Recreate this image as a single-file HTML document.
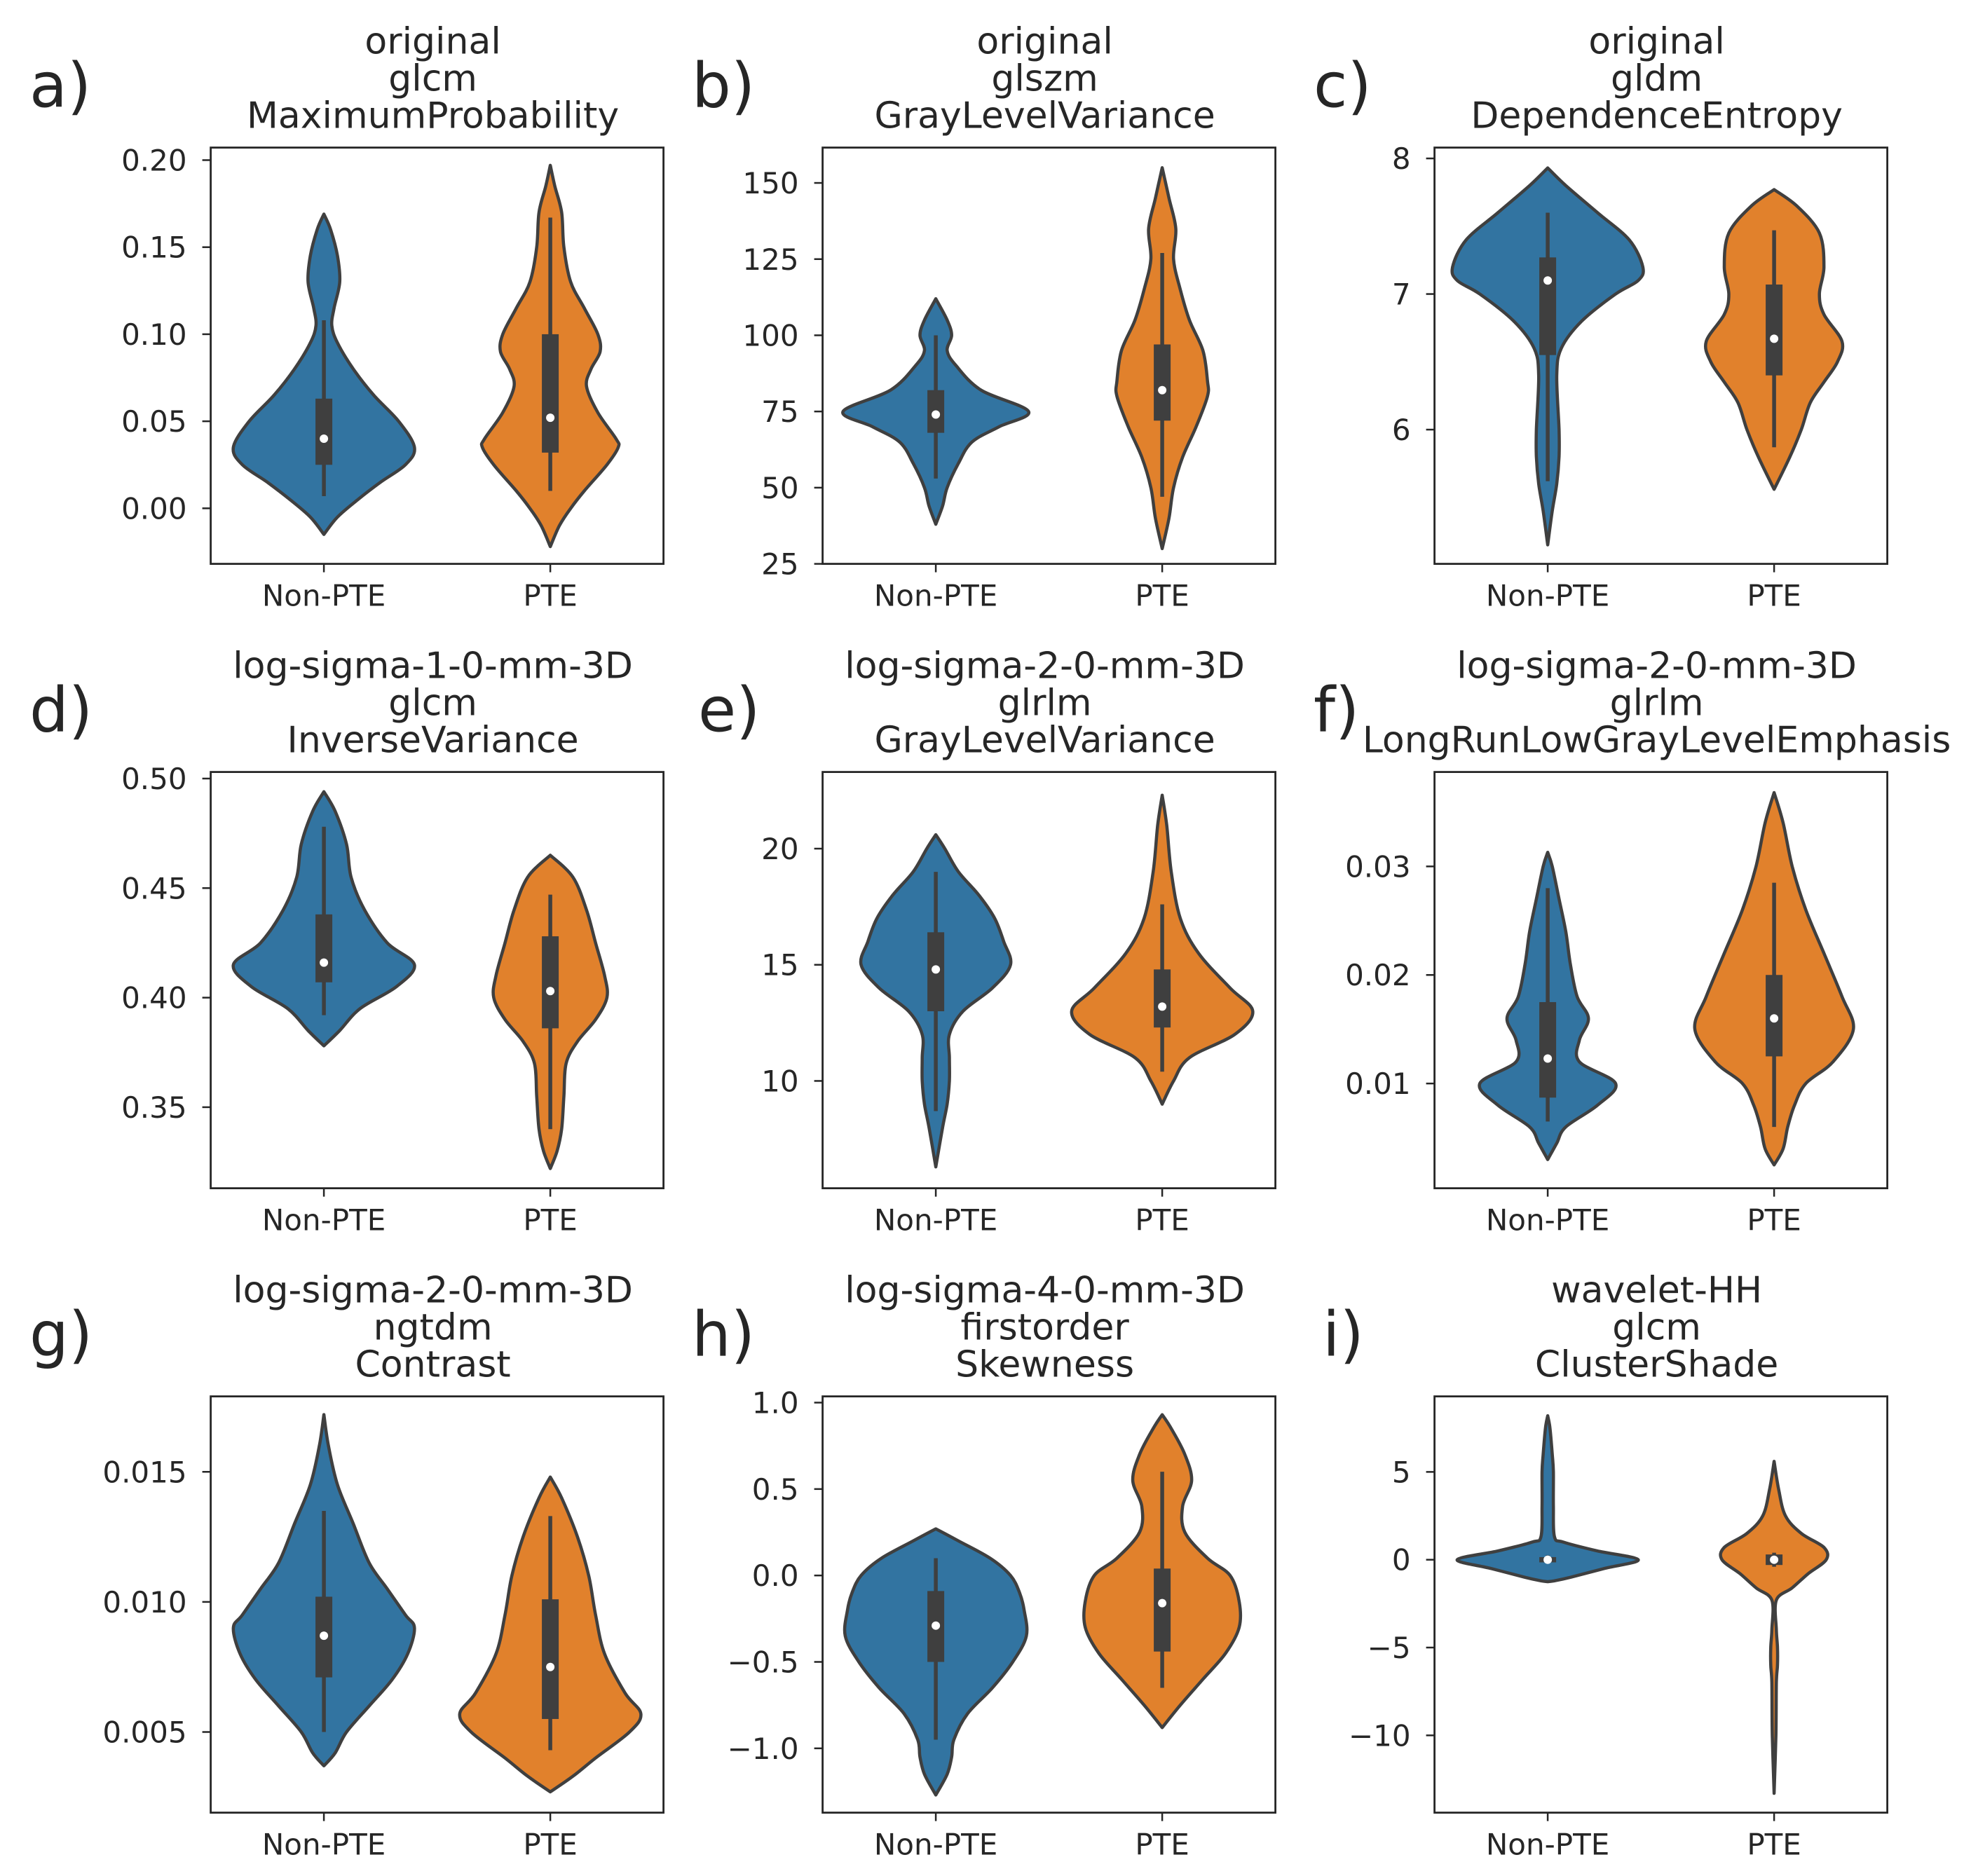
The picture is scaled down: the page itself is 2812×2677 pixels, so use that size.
<!DOCTYPE html>
<html><head><meta charset="utf-8">
<style>
html,body{margin:0;padding:0;background:#fff;}
svg text{font-family:"DejaVu Sans","Liberation Sans",sans-serif;fill:#262626;}
</style></head>
<body>
<svg id="fig" xmlns="http://www.w3.org/2000/svg" width="2812" height="2672" viewBox="0 0 2812 2672"></svg>
<script>
const categories = ["Non-PTE","PTE"];
const panelLetters = ["a)","b)","c)","d)","e)","f)","g)","h)","i)"];
const titles = [
 ["original","glcm","MaximumProbability"],
 ["original","glszm","GrayLevelVariance"],
 ["original","gldm","DependenceEntropy"],
 ["log-sigma-1-0-mm-3D","glcm","InverseVariance"],
 ["log-sigma-2-0-mm-3D","glrlm","GrayLevelVariance"],
 ["log-sigma-2-0-mm-3D","glrlm","LongRunLowGrayLevelEmphasis"],
 ["log-sigma-2-0-mm-3D","ngtdm","Contrast"],
 ["log-sigma-4-0-mm-3D","firstorder","Skewness"],
 ["wavelet-HH","glcm","ClusterShade"]
];
const yLimits = [[-0.0319,0.2072],[25,161.6],[5.01,8.08],[0.313,0.503],[5.38,23.3],[0.00035,0.0387],[0.0019,0.0179],[-1.372,1.036],[-14.4,9.3]];
const yTicks = [
 [0,0.05,0.1,0.15,0.2],[25,50,75,100,125,150],[6,7,8],[0.35,0.4,0.45,0.5],[10,15,20],[0.01,0.02,0.03],[0.005,0.01,0.015],[-1,-0.5,0,0.5,1],[-10,-5,0,5]
];
const yTickLabels = [
 ["0.00","0.05","0.10","0.15","0.20"],["25","50","75","100","125","150"],["6","7","8"],["0.35","0.40","0.45","0.50"],["10","15","20"],["0.01","0.02","0.03"],["0.005","0.010","0.015"],["\u22121.0","\u22120.5","0.0","0.5","1.0"],["\u221210","\u22125","0","5"]
];
const violinValues = [
 [[0.169,0.16,0.145,0.13,0.115,0.105,0.095,0.08,0.065,0.05,0.035,0.025,0.015,0.005,-0.005,-0.015],
  [0.197,0.185,0.17,0.15,0.13,0.115,0.1,0.09,0.08,0.07,0.055,0.04,0.035,0.025,0.01,0,-0.01,-0.022]],
 [[112,105,100,95,90,82,75,70,65,58,50,44,38],
  [155,145,135,125,115,105,95,85,80,70,60,50,40,30]],
 [[7.93,7.8,7.6,7.4,7.2,7.1,7.0,6.8,6.6,6.4,6.0,5.8,5.6,5.4,5.15],
  [7.77,7.65,7.45,7.2,7.0,6.85,6.65,6.5,6.35,6.2,6.0,5.8,5.56]],
 [[0.494,0.485,0.47,0.455,0.44,0.425,0.415,0.405,0.395,0.385,0.378],
  [0.465,0.455,0.44,0.425,0.41,0.4,0.39,0.38,0.37,0.355,0.34,0.33,0.322]],
 [[20.6,20,19,18,17,16,15,14,13,12,11,10,9,8,6.3],
  [22.3,21,19,17,15.5,14,13,12,11,10,9]],
 [[0.0313,0.03,0.027,0.024,0.021,0.018,0.016,0.014,0.012,0.01,0.008,0.006,0.0045,0.003],
  [0.0368,0.034,0.03,0.026,0.022,0.018,0.015,0.012,0.01,0.008,0.006,0.004,0.0025]],
 [[0.0172,0.016,0.0145,0.013,0.0115,0.0105,0.0095,0.009,0.008,0.007,0.006,0.005,0.0042,0.0037],
  [0.0148,0.014,0.0125,0.011,0.0095,0.008,0.0065,0.0057,0.005,0.004,0.0033,0.0027]],
 [[0.27,0.2,0.1,0,-0.1,-0.2,-0.35,-0.5,-0.65,-0.8,-0.95,-1.05,-1.15,-1.27],
  [0.93,0.85,0.7,0.55,0.4,0.25,0.1,0,-0.15,-0.3,-0.45,-0.6,-0.75,-0.88]],
 [[8.2,7.5,6,5,3,1.3,1.0,0.5,0,-0.5,-1.0,-1.2,-1.25],
  [5.6,4,2.5,1.5,0.7,0,-0.8,-1.6,-2.3,-4,-5,-6,-7,-10,-13.3]]
];
const violinWidths = [
 [[0,0.03,0.06,0.07,0.045,0.035,0.06,0.13,0.22,0.33,0.40,0.36,0.25,0.15,0.06,0],
  [0,0.02,0.05,0.06,0.09,0.15,0.21,0.22,0.18,0.16,0.21,0.29,0.30,0.25,0.15,0.09,0.04,0]],
 [[0,0.05,0.07,0.05,0.09,0.2,0.41,0.28,0.16,0.1,0.05,0.03,0],
  [0,0.03,0.06,0.05,0.08,0.12,0.18,0.2,0.2,0.15,0.09,0.05,0.03,0]],
 [[0,0.08,0.22,0.36,0.42,0.40,0.3,0.15,0.06,0.04,0.05,0.05,0.04,0.02,0],
  [0,0.1,0.2,0.22,0.2,0.22,0.3,0.28,0.22,0.16,0.12,0.07,0]],
 [[0,0.05,0.1,0.12,0.18,0.28,0.4,0.32,0.16,0.07,0],
  [0,0.1,0.16,0.2,0.24,0.25,0.2,0.12,0.07,0.06,0.05,0.03,0]],
 [[0,0.04,0.1,0.19,0.26,0.3,0.33,0.25,0.12,0.06,0.06,0.06,0.05,0.03,0],
  [0,0.02,0.04,0.08,0.16,0.3,0.4,0.32,0.12,0.05,0]],
 [[0,0.02,0.05,0.08,0.1,0.13,0.18,0.14,0.14,0.3,0.22,0.08,0.04,0],
  [0,0.04,0.08,0.14,0.22,0.3,0.35,0.26,0.14,0.09,0.06,0.04,0]],
 [[0,0.02,0.06,0.13,0.2,0.28,0.36,0.4,0.37,0.3,0.2,0.1,0.05,0],
  [0,0.05,0.12,0.17,0.2,0.24,0.33,0.4,0.35,0.2,0.1,0]],
 [[0,0.1,0.24,0.33,0.37,0.39,0.4,0.34,0.25,0.14,0.08,0.07,0.05,0],
  [0,0.04,0.1,0.13,0.09,0.1,0.2,0.3,0.34,0.34,0.28,0.18,0.08,0]],
 [[0,0.01,0.02,0.025,0.025,0.03,0.07,0.22,0.4,0.25,0.1,0.03,0],
  [0,0.02,0.05,0.12,0.22,0.23,0.15,0.08,0.01,0.01,0.015,0.015,0.01,0.008,0]]
];
const boxStats = [
 [[0.007,0.025,0.04,0.063,0.108],[0.01,0.032,0.052,0.1,0.167]],
 [[53,68,74,82,100],[47,72,82,97,127]],
 [[5.62,6.55,7.1,7.27,7.6],[5.87,6.4,6.67,7.07,7.47]],
 [[0.392,0.407,0.416,0.438,0.478],[0.34,0.386,0.403,0.428,0.447]],
 [[8.7,13,14.8,16.4,19],[10.4,12.3,13.2,14.8,17.6]],
 [[0.0065,0.0087,0.0123,0.0175,0.028],[0.006,0.0125,0.016,0.02,0.0285]],
 [[0.005,0.0071,0.0087,0.0102,0.0135],[0.0043,0.0055,0.0075,0.0101,0.0133]],
 [[-0.95,-0.5,-0.29,-0.09,0.1],[-0.65,-0.44,-0.16,0.04,0.6]],
 [[-0.2,-0.15,0,0.15,0.25],[-0.4,-0.3,0,0.3,0.4]]
];

const NS="http://www.w3.org/2000/svg";
const svg=document.getElementById('fig');
const colors=["#3274a1","#e1812c"];
const colLeft=[300.6,1173.6,2046.6], rowTop=[210.6,1101.6,1992.6];
const W=646,H=594;
const letterX=[[42,987,1874],[42,996,1874],[42,987,1887]];
function mk(tag,attrs,parent){const e=document.createElementNS(NS,tag);for(const k in attrs)e.setAttribute(k,attrs[k]);(parent||svg).appendChild(e);return e;}
function smoothPath(pts){
 let d="M"+pts[0][0].toFixed(1)+","+pts[0][1].toFixed(1);
 for(let i=0;i<pts.length-1;i++){
  const p0=pts[Math.max(i-1,0)],p1=pts[i],p2=pts[i+1],p3=pts[Math.min(i+2,pts.length-1)];
  const c1=[p1[0]+(p2[0]-p0[0])/6,p1[1]+(p2[1]-p0[1])/6];
  const c2=[p2[0]-(p3[0]-p1[0])/6,p2[1]-(p3[1]-p1[1])/6];
  d+=" C"+c1[0].toFixed(1)+","+c1[1].toFixed(1)+" "+c2[0].toFixed(1)+","+c2[1].toFixed(1)+" "+p2[0].toFixed(1)+","+p2[1].toFixed(1);
 }
 return d;
}
for(let p=0;p<9;p++){
 const r=Math.floor(p/3),c=p%3;
 const L=colLeft[c],T=rowTop[r];
 const g=mk('g',{});
 
 
 const [y0,y1]=yLimits[p];
 const ys=v=>T+H-(v-y0)/(y1-y0)*H;
 const xs=u=>L+(u+0.5)/2*W;
 const lt=mk('text',{x:letterX[r][c],y:T-58,'font-size':88,fill:'#000'},g);
 lt.textContent=panelLetters[p];
 
 
 for(let k=0;k<3;k++){
  const t=mk('text',{x:L+W/2-6,y:T-134+k*53,'font-size':52,'text-anchor':'middle'},g);
  t.textContent=titles[p][k];
  
  
 }
 for(let s=0;s<2;s++){
  const cx=xs(s);
  const vals=violinValues[p][s],wd=violinWidths[p][s];
  const right=vals.map((v,i)=>[cx+wd[i]*W/2,ys(v)]);
  const left=vals.map((v,i)=>[cx-wd[i]*W/2,ys(v)]).reverse();
  const d=smoothPath(right)+" "+smoothPath(left).replace(/^M/,"L")+" Z";
  const vp=mk('path',{d:d,fill:colors[s],stroke:'#3f3f3f','stroke-width':4.5,'stroke-linejoin':'round'},g);
  
  
  const b=boxStats[p][s];
  const wl=mk('line',{x1:cx,x2:cx,y1:ys(b[0]),y2:ys(b[4]),stroke:'#3f3f3f','stroke-width':5.5},g);
  
  
  const bx=mk('rect',{x:cx-12,width:24,y:ys(b[3]),height:Math.max(ys(b[1])-ys(b[3]),2),fill:'#3f3f3f'},g);
  
  
  const md=mk('circle',{cx:cx,cy:ys(b[2]),r:6,fill:'#fff'},g);
  
  
 }
 const fr=mk('rect',{x:L,y:T,width:W,height:H,fill:'none',stroke:'#262626','stroke-width':2.8},g);
 
 
 yTicks[p].forEach((v,i)=>{
  const y=ys(v);
  mk('line',{x1:L-12,x2:L,y1:y,y2:y,stroke:'#262626','stroke-width':2.5},g);
  const t=mk('text',{x:L-34,y:y+15,'font-size':42,'text-anchor':'end'},g);
  t.textContent=yTickLabels[p][i];
  
  
 });
 categories.forEach((cname,s)=>{
  const x=xs(s);
  mk('line',{x1:x,x2:x,y1:T+H,y2:T+H+12,stroke:'#262626','stroke-width':2.5},g);
  const t=mk('text',{x:x,y:T+H+60,'font-size':42,'text-anchor':'middle'},g);
  t.textContent=cname;
  
  
 });
}
</script>
</body></html>
